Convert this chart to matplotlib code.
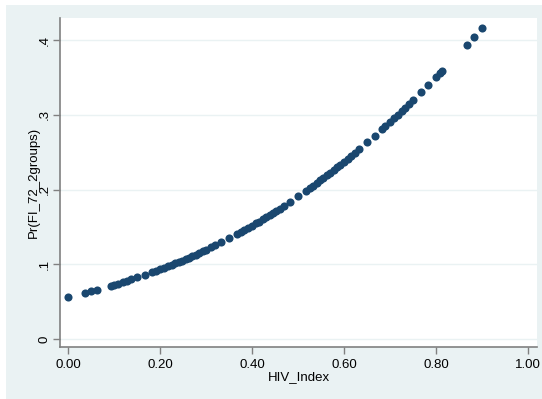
import matplotlib
matplotlib.use("Agg")
import matplotlib.pyplot as plt
from matplotlib.patches import Rectangle

# values
hiv_index = [0.000, 0.036, 0.049, 0.062, 0.093, 0.100, 0.108, 0.118, 0.127, 0.137,
             0.150, 0.167, 0.183, 0.190, 0.200, 0.208, 0.218, 0.225, 0.232, 0.240,
             0.247, 0.255, 0.262, 0.270, 0.277, 0.285, 0.292, 0.300, 0.310, 0.320,
             0.333, 0.350, 0.367, 0.375, 0.383, 0.392, 0.400, 0.408, 0.415, 0.423,
             0.430, 0.438, 0.445, 0.452, 0.460, 0.470, 0.483, 0.500, 0.517, 0.525,
             0.533, 0.540, 0.548, 0.555, 0.563, 0.570, 0.578, 0.585, 0.592, 0.600,
             0.608, 0.615, 0.623, 0.633, 0.650, 0.667, 0.683, 0.690, 0.700, 0.708,
             0.717, 0.725, 0.733, 0.742, 0.750, 0.767, 0.783, 0.800, 0.808, 0.813,
             0.867, 0.883, 0.900]
pr_fi = [0.056, 0.0615, 0.0636, 0.0657, 0.0712, 0.0725, 0.0740, 0.0759, 0.0777, 0.0797,
         0.0824, 0.0860, 0.0895, 0.0911, 0.0934, 0.0952, 0.0976, 0.0994, 0.1011, 0.1031,
         0.1050, 0.1071, 0.1089, 0.1111, 0.1130, 0.1152, 0.1172, 0.1195, 0.1225, 0.1255,
         0.1294, 0.1348, 0.1404, 0.1431, 0.1458, 0.1490, 0.1517, 0.1546, 0.1571, 0.1600,
         0.1627, 0.1657, 0.1684, 0.1712, 0.1742, 0.1783, 0.1835, 0.1908, 0.1982, 0.2017,
         0.2053, 0.2085, 0.2121, 0.2153, 0.2190, 0.2223, 0.2261, 0.2297, 0.2331, 0.2371,
         0.2410, 0.2445, 0.2486, 0.2538, 0.2630, 0.2721, 0.2809, 0.2848, 0.2905, 0.2951,
         0.3003, 0.3050, 0.3096, 0.3150, 0.3197, 0.3300, 0.3398, 0.3505, 0.3555, 0.3587,
         0.3937, 0.4042, 0.4156]
xticks = [0, 0.2, 0.4, 0.6, 0.8, 1.0]
xticklabels = ["0.00", "0.20", "0.40", "0.60", "0.80", "1.00"]
yticks = [0, 0.1, 0.2, 0.3, 0.4]
yticklabels = ["0", ".1", ".2", ".3", ".4"]

plt.rcParams['font.family'] = ['Liberation Sans', 'DejaVu Sans']

fig = plt.figure(figsize=(5.42, 3.99), dpi=100)
fig.patch.set_facecolor("white")
# stata style graph region, behind the axes
fig.add_artist(Rectangle((6/542, 0), 1, 1 - 5/399, transform=fig.transFigure,
                         facecolor="#eaf2f3", edgecolor="none", zorder=-10))

ax = fig.add_axes([60/542, 1 - 347/399, 477/542, 329/399])
ax.set_facecolor("white")
ax.scatter(hiv_index, pr_fi, s=34, color="#1a476f", linewidths=0, zorder=3)

ax.set_xlim(-0.018, 1.0196)
ax.set_ylim(-0.0107, 0.4295)
ax.set_xticks(xticks)
ax.set_xticklabels(xticklabels)
ax.set_yticks(yticks)
ax.set_yticklabels(yticklabels, rotation=90, va="center")
ax.grid(axis="y", color="#eaf2f3", linewidth=1)
ax.set_axisbelow(True)

for s in ["top", "right"]:
    ax.spines[s].set_visible(False)
for s in ["left", "bottom"]:
    ax.spines[s].set_color("#808080")
    ax.spines[s].set_linewidth(1.2)
ax.tick_params(colors="#808080", labelcolor="black", length=5, width=1, labelsize=9.5)
ax.tick_params(axis="y", pad=1.5)
ax.tick_params(axis="x", pad=4)

ax.set_xlabel("HIV_Index", fontsize=9.5, labelpad=0)
ax.set_ylabel("Pr(FI_72_2groups)", fontsize=9.5, labelpad=-1)

fig.savefig("out.png", dpi=100)
